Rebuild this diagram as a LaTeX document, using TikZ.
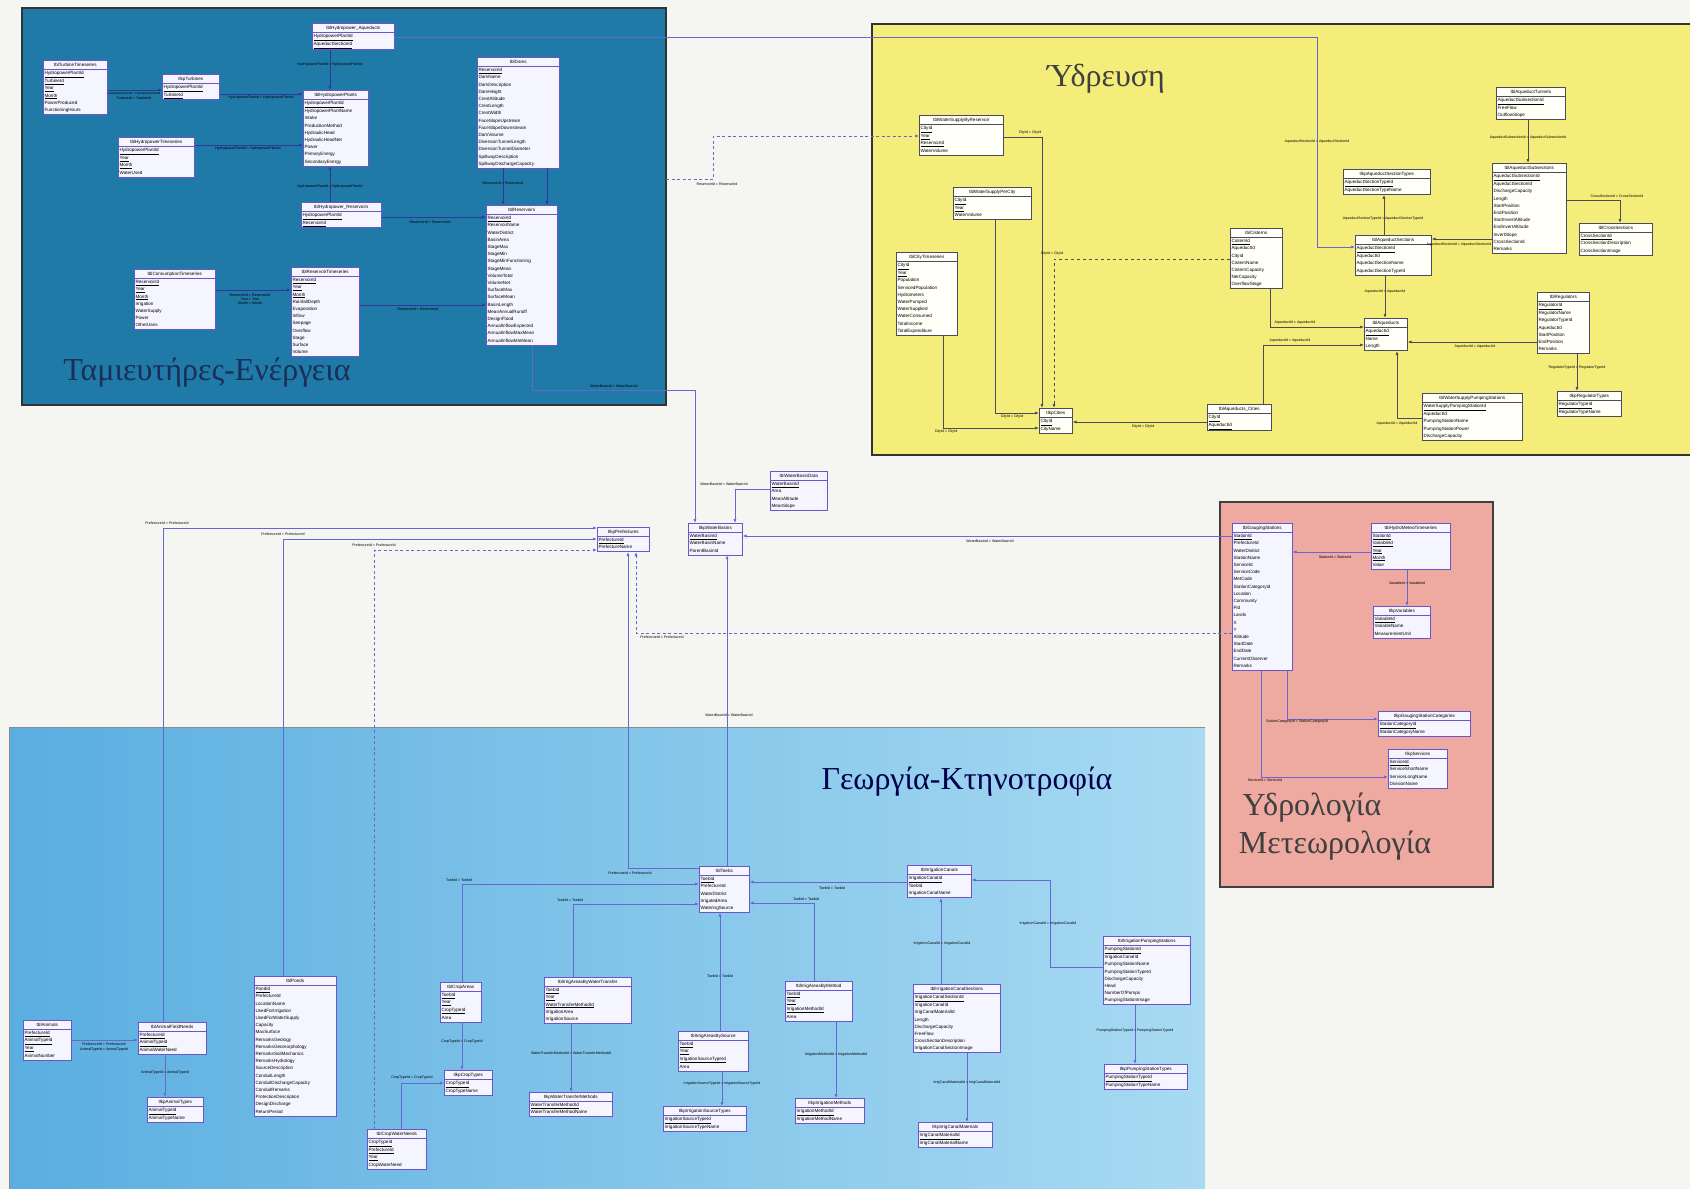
\documentclass[tikz,border=0pt]{standalone}
\usepackage{fontspec}
\setmainfont{Liberation Sans}
\newfontfamily\regionfont{Liberation Serif}
\usetikzlibrary{arrows.meta,shapes.multipart}
\definecolor{paper}{HTML}{F5F5F1}
\definecolor{energyblue}{HTML}{1F7AA8}
\definecolor{supplyyellow}{HTML}{F5ED7A}
\definecolor{hydropink}{HTML}{EEA9A0}
\definecolor{farmdark}{HTML}{5AAEE0}
\definecolor{farmlight}{HTML}{A8DAF2}
\definecolor{tableedge}{HTML}{6B55C9}
\definecolor{linkpurple}{HTML}{6767D4}
\definecolor{linknavy}{HTML}{34349A}
\definecolor{linkgray}{HTML}{4B4B5C}
\definecolor{titlenavy}{HTML}{1B2E57}
\tikzset{dbtable/.style={rectangle split,rectangle split parts=2,
 rectangle split part align={center,left},draw=tableedge,fill=white!96!blue,
 line width=.6pt,inner xsep=1.3pt,inner ysep=.4pt,text=black,
 font=\fontsize{4.6}{7.2}\selectfont},
 ytable/.style={dbtable,draw=linkgray,fill=white!97!yellow},
 link/.style={draw=linkpurple,line width=.7pt,-{Latex[length=4pt,width=3pt]}},
 toplink/.style={link,draw=linknavy},
 ylink/.style={link,draw=linkgray},
 dlink/.style={link,dashed,dash pattern=on 3pt off 2.5pt},
 rellabel/.style={font=\fontsize{3.6}{4.2}\selectfont,text=black,inner sep=.5pt,align=center},
 region/.style={line width=1.4pt,draw=black!80},
 regiontitle/.style={font=\fontsize{32}{36}\regionfont,text=titlenavy}}
\newcommand{\pk}[1]{\underline{#1}}
\newcommand{\dbtable}[6][dbtable]{%
 \node[#1,minimum width=#4pt,anchor=north west] (#2) at (#3)
  {\strut #5\nodepart{two}\begin{tabular}{@{}l@{}}#6\end{tabular}};}
\newcommand{\rel}[3]{\node[rellabel] (#1) at (#2) {#3};}

\begin{document}
\begin{tikzpicture}[x=1pt,y=-1pt]
 \useasboundingbox (0,0) rectangle (1690,1189);
 \fill[paper] (0,0) rectangle (1690,1189);
 % regions
 \fill[energyblue] (22,8) rectangle (666,405);
 \draw[region] (22,8) rectangle (666,405);
 \fill[supplyyellow] (872,24) rectangle (1690,455);
 \draw[region] (1690,24) -- (872,24) -- (872,455) -- (1690,455);
 \fill[hydropink] (1220,502) rectangle (1493,887);
 \draw[region,draw=black!75] (1220,502) rectangle (1493,887);
 \shade[left color=farmdark,right color=farmlight] (9,727) rectangle (1205,1189);
 \draw[line width=1pt,draw=black!45] (9,1189) -- (9,727) -- (1205,727);
 \node[regiontitle] (energytitle) at (207,373) {Ταμιευτήρες-Ενέργεια};
 \node[regiontitle,text=black!75] (supplytitle) at (1106,79) {Ύδρευση};
 \node[regiontitle,text=black!70!blue] (farmtitle) at (967,782) {Γεωργία-Κτηνοτροφία};
 \node[regiontitle,text=black!75] (hydrotitle) at (1312,808) {Υδρολογία};
 \node[regiontitle,text=black!75] (meteotitle) at (1335,846) {Μετεωρολογία};

 % reservoirs and energy
 \dbtable{turbts}{43,60}{64}{tblTurbineTimeseries}
  {\pk{HydropowerPlantId}\\\pk{TurbineId}\\\pk{Year}\\\pk{Month}\\PowerProduced\\FunctioningHours}
 \dbtable{turbines}{162,74}{57}{tlkpTurbines}{\pk{HydropowerPlantId}\\\pk{TurbineId}}
 \dbtable{plants}{303,90}{65}{tblHydropowerPlants}
  {\pk{HydropowerPlantId}\\HydropowerPlantName\\Intake\\ProductionMethod\\HydraulicHead\\
   HydraulicHeadNet\\Power\\PrimaryEnergy\\SecondaryEnergy}
 \dbtable{hpaqueducts}{312,23}{82}{tblHydropower\_Aqueducts}{\pk{HydropowerPlantId}\\\pk{AqueductSectionId}}
 \dbtable{hpts}{118,137}{76}{tblHydropowerTimeseries}
  {\pk{HydropowerPlantId}\\\pk{Year}\\\pk{Month}\\WaterUsed}
 \dbtable{hpreservoirs}{301,202}{80}{tblHydropower\_Reservoirs}{\pk{HydropowerPlantId}\\\pk{ReservoirId}}
 \dbtable{dams}{477,57}{82}{tblDams}
  {\pk{ReservoirId}\\DamName\\DamDescription\\DamHeight\\CrestAltitude\\CrestLength\\CrestWidth\\
   FaceSlopeUpstream\\FaceSlopeDownstream\\DamVolume\\DiversionTunnelLength\\
   DiversionTunnelDiameter\\SpillwayDescription\\SpillwayDischargeCapacity}
 \dbtable{reservoirs}{486,205}{71}{tblReservoirs}
  {\pk{ReservoirId}\\ReservoirName\\WaterDistrict\\BasinArea\\StageMax\\StageMin\\
   StageMinFunctioning\\StageMean\\VolumeTotal\\VolumeNet\\SurfaceMax\\SurfaceMean\\
   BasinLength\\MeanAnnualRunoff\\DesignFlood\\AnnualInflowExpected\\AnnualInflowMaxMean\\
   AnnualInflowMinMean}
 \dbtable{consts}{134,269}{81}{tblConsumptionTimeseries}
  {\pk{ReservoirId}\\\pk{Year}\\\pk{Month}\\Irrigation\\WaterSupply\\Power\\OtherUses}
 \dbtable{rests}{291,267}{68}{tblReservoirTimeseries}
  {\pk{ReservoirId}\\\pk{Year}\\\pk{Month}\\RainfallDepth\\Evaporation\\Inflow\\Seepage\\
   Overflow\\Stage\\Surface\\Volume}

 % water supply
 \dbtable[ytable]{wsres}{919,115}{84}{tblWaterSupplyByReservoir}
  {\pk{CityId}\\\pk{Year}\\\pk{ReservoirId}\\WaterVolume}
 \dbtable[ytable]{wscity}{953,187}{78}{tblWaterSupplyPerCity}{\pk{CityId}\\\pk{Year}\\WaterVolume}
 \dbtable[ytable]{cityts}{896,252}{61}{tblCityTimeseries}
  {\pk{CityId}\\\pk{Year}\\Population\\ServicedPopulation\\Hydrometers\\WaterPumped\\
   WaterSupplied\\WaterConsumed\\TotalIncome\\TotalExpenditure}
 \dbtable[ytable]{cities}{1039,408}{33}{tlkpCities}{\pk{CityId}\\CityName}
 \dbtable[ytable]{aqcities}{1207,404}{64}{tblAqueducts\_Cities}{\pk{CityId}\\\pk{AqueductId}}
 \dbtable[ytable]{cisterns}{1230,228}{52}{tblCisterns}
  {\pk{CisternId}\\AqueductId\\CityId\\CisternName\\CisternCapacity\\NetCapacity\\OverflowStage}
 \dbtable[ytable]{tunnels}{1496,87}{69}{tblAqueductTunnels}{\pk{AqueductSubsectionId}\\FreeFlow\\OutflowSlope}
 \dbtable[ytable]{subsections}{1492,163}{74}{tblAqueductSubsections}
  {\pk{AqueductSubsectionId}\\AqueductSectionId\\DischargeCapacity\\Length\\StartPosition\\
   EndPosition\\StartInvertAltitude\\EndInvertAltitude\\InvertSlope\\CrossSectionId\\Remarks}
 \dbtable[ytable]{crosssections}{1579,223}{73}{tblCrossSections}
  {\pk{CrossSectionId}\\CrossSectionDescription\\CrossSectionImage}
 \dbtable[ytable]{sectiontypes}{1343,169}{87}{tlkpAqueductSectionTypes}
  {\pk{AqueductSectionTypeId}\\AqueductSectionTypeName}
 \dbtable[ytable]{sections}{1355,235}{76}{tblAqueductSections}
  {\pk{AqueductSectionId}\\AqueductId\\AqueductSectionName\\AqueductSectionTypeId}
 \dbtable[ytable]{aqueducts}{1364,318}{43}{tblAqueducts}{\pk{AqueductId}\\Name\\Length}
 \dbtable[ytable]{regulators}{1537,292}{52}{tblRegulators}
  {\pk{RegulatorId}\\RegulatorName\\RegulatorTypeId\\AqueductId\\StartPosition\\EndPosition\\Remarks}
 \dbtable[ytable]{regtypes}{1557,391}{64}{tlkpRegulatorTypes}{\pk{RegulatorTypeId}\\RegulatorTypeName}
 \dbtable[ytable]{wspumps}{1422,393}{100}{tblWaterSupplyPumpingStations}
  {\pk{WaterSupplyPumpingStationId}\\AqueductId\\PumpingStationName\\PumpingStationPower\\DischargeCapacity}

 % hydrology and meteorology
 \dbtable{gauging}{1232,523}{60}{tblGaugingStations}
  {\pk{StationId}\\PrefectureId\\WaterDistrict\\StationName\\ServiceId\\ServiceCode\\MetCode\\
   StationCategoryId\\Location\\Community\\Pid\\Lands\\X\\Y\\Altitude\\StartDate\\EndDate\\
   CurrentObserver\\Remarks}
 \dbtable{hmts}{1371,523}{79}{tblHydroMeteoTimeseries}
  {\pk{StationId}\\\pk{VariableId}\\\pk{Year}\\\pk{Month}\\Value}
 \dbtable{variables}{1373,606}{57}{tlkpVariables}{\pk{VariableId}\\VariableName\\MeasurementUnit}
 \dbtable{stcategories}{1378,711}{92}{tlkpGaugingStationCategories}
  {\pk{StationCategoryId}\\StationCategoryName}
 \dbtable{services}{1388,749}{59}{tlkpServices}
  {\pk{ServiceId}\\ServiceShortName\\ServiceLongName\\DivisionName}

 % common lookups
 \dbtable{basins}{688,523}{54}{tlkpWaterBasins}{\pk{WaterBasinId}\\WaterBasinName\\ParentBasinId}
 \dbtable{basindata}{770,471}{57}{tblWaterBasinData}{\pk{WaterBasinId}\\Area\\MeanAltitude\\MeanSlope}
 \dbtable{prefectures}{597,527}{52}{tlkpPrefectures}{\pk{PrefectureId}\\PrefectureName}

 % agriculture and livestock
 \dbtable{toebs}{699,866}{50}{tblToebs}
  {\pk{ToebId}\\PrefectureId\\WaterDistrict\\IrrigatedArea\\WateringSource}
 \dbtable{cropareas}{440,982}{41}{tblCropAreas}{\pk{ToebId}\\\pk{Year}\\\pk{CropTypeId}\\Area}
 \dbtable{croptypes}{444,1070}{48}{tlkpCropTypes}{\pk{CropTypeId}\\CropTypeName}
 \dbtable{irrtransfer}{544,977}{87}{tblIrrigAreasByWaterTransfer}
  {\pk{ToebId}\\\pk{Year}\\\pk{WaterTransferMethodId}\\IrrigationArea\\IrrigationSource}
 \dbtable{transfermethods}{529,1092}{83}{tlkpWaterTransferMethods}
  {\pk{WaterTransferMethodId}\\WaterTransferMethodName}
 \dbtable{irrsource}{678,1031}{70}{tblIrrigAreasBySource}
  {\pk{ToebId}\\\pk{Year}\\\pk{IrrigationSourceTypeId}\\Area}
 \dbtable{sourcetypes}{663,1106}{83}{tlkpIrrigationSourceTypes}
  {\pk{IrrigationSourceTypeId}\\IrrigationSourceTypeName}
 \dbtable{irrmethod}{785,981}{67}{tblIrrigAreasByMethod}
  {\pk{ToebId}\\\pk{Year}\\\pk{IrrigationMethodId}\\Area}
 \dbtable{irrmethods}{795,1098}{69}{tlkpIrrigationMethods}{\pk{IrrigationMethodId}\\IrrigationMethodName}
 \dbtable{canals}{907,865}{64}{tblIrrigationCanals}{\pk{IrrigationCanalId}\\ToebId\\IrrigationCanalName}
 \dbtable{canalsections}{913,984}{87}{tblIrrigationCanalSections}
  {\pk{IrrigationCanalSectionId}\\IrrigationCanalId\\IrrigCanalMaterialId\\Length\\
   DischargeCapacity\\FreeFlow\\CrossSectionDescription\\IrrigationCanalSectionImage}
 \dbtable{materials}{918,1122}{74}{tlkpIrrigCanalMaterials}
  {\pk{IrrigCanalMaterialId}\\IrrigCanalMaterialName}
 \dbtable{irrpumps}{1103,936}{87}{tblIrrigationPumpingStations}
  {\pk{PumpingStationId}\\IrrigationCanalId\\PumpingStationName\\PumpingStationTypeId\\
   DischargeCapacity\\Head\\NumberOfPumps\\PumpingStationImage}
 \dbtable{pumptypes}{1104,1064}{83}{tlkpPumpingStationTypes}
  {\pk{PumpingStationTypeId}\\PumpingStationTypeName}
 \dbtable{animals}{23,1020}{48}{tblAnimals}
  {\pk{PrefectureId}\\\pk{AnimalTypeId}\\\pk{Year}\\AnimalNumber}
 \dbtable{animalneeds}{138,1022}{68}{tblAnimalFieldNeeds}
  {\pk{PrefectureId}\\\pk{AnimalTypeId}\\AnimalWaterNeed}
 \dbtable{animaltypes}{147,1097}{56}{tlkpAnimalTypes}{\pk{AnimalTypeId}\\AnimalTypeName}
 \dbtable{ponds}{254,976}{82}{tblPonds}
  {\pk{PondId}\\PrefectureId\\LocationName\\UsedForIrrigation\\UsedForWaterSupply\\Capacity\\
   MaxSurface\\RemarksGeology\\RemarksGeomorphology\\RemarksSoilMechanics\\RemarksHydrology\\
   SourceDescription\\ConduitLength\\ConduitDischargeCapacity\\ConduitRemarks\\
   ProtectionDescription\\DesignDischarge\\ReturnPeriod}
 \dbtable{cropwater}{367,1129}{59}{tblCropWaterNeeds}
  {\pk{CropTypeId}\\\pk{PrefectureId}\\\pk{Year}\\CropWaterNeed}

 % connectors, energy
 \draw[toplink] (turbts.east |- 0,90) -- (turbines.west |- 0,90);
 \rel{r1}{134,96}{\fontsize{2.9}{3.5}\selectfont HydropowerPlantId = HydropowerPlantId\\TurbineId = TurbineId}
 \draw[toplink] (turbines.east |- 0,94) -- (plants.west |- 0,94);
 \rel{r2}{261,98}{HydropowerPlantId = HydropowerPlantId}
 \draw[toplink] (hpaqueducts.south -| 330,0) -- (plants.north -| 330,0);
 \rel{r3}{330,65}{HydropowerPlantId = HydropowerPlantId}
 \draw[toplink] (hpts.east |- 0,145) -- (plants.west |- 0,145);
 \rel{r4}{248,149}{HydropowerPlantId = HydropowerPlantId}
 \draw[toplink] (hpreservoirs.north -| 330,0) -- (plants.south -| 330,0);
 \rel{r5}{330,187}{HydropowerPlantId = HydropowerPlantId}
 \draw[toplink] (dams.south -| 503,0) -- (reservoirs.north -| 503,0);
 \draw[toplink] (dams.south -| 547,0) -- (reservoirs.north -| 547,0);
 \rel{r6}{503,183}{ReservoirId = ReservoirId}
 \draw[toplink] (hpreservoirs.east |- 0,217) -- (reservoirs.west |- 0,217);
 \rel{r7}{430,222}{ReservoirId = ReservoirId}
 \draw[toplink] (consts.east |- 0,290) -- (rests.west |- 0,290);
 \rel{r8}{250,299}{ReservoirId = ReservoirId\\Year = Year\\Month = Month}
 \draw[toplink] (rests.east |- 0,305) -- (reservoirs.west |- 0,305);
 \rel{r9}{418,309}{ReservoirId = ReservoirId}

 % connectors across the regions
 \draw[link] (hpaqueducts.east |- 0,37) -- (1317,37) |- (sections.west |- 0,247);
 \rel{r10}{1317,142}{AqueductSectionId = AqueductSectionId}
 \coordinate (reservoiredge) at (666,179);
 \draw[dlink] (reservoiredge) -- (713,179) |- (wsres.west |- 0,136);
 \rel{r11}{717,184}{ReservoirId = ReservoirId}
 \draw[link] (reservoirs.south -| 532,0) |- (695,390) -- (basins.north -| 695,0);
 \rel{r12}{614,386}{WaterBasinId = WaterBasinId}
 \draw[link] (basindata.west |- 0,489) -| (basins.north -| 735,0);
 \rel{r13}{724,484}{WaterBasinId = WaterBasinId}
 \draw[link] (gauging.west |- 0,536) -- (basins.east |- 0,536);
 \rel{r14}{990,541}{WaterBasinId = WaterBasinId}
 \draw[dlink] (gauging.west |- 0,633) -| (prefectures.south -| 636,0);
 \rel{r15}{662,637}{PrefectureId = PrefectureId}
 \draw[link] (toebs.north -| 727,0) -- (basins.south -| 727,0);
 \rel{r16}{729,715}{WaterBasinId = WaterBasinId}
 \draw[link] (toebs.west |- 0,868) -| (prefectures.south -| 628,0);
 \rel{r17}{630,873}{PrefectureId = PrefectureId}
 \draw[link] (animalneeds.north -| 163,0) |- (prefectures.west |- 0,528);
 \rel{r18}{167,523}{PrefectureId = PrefectureId}
 \draw[link] (ponds.north -| 283,0) |- (prefectures.west |- 0,539);
 \rel{r19}{283,534}{PrefectureId = PrefectureId}
 \draw[dlink] (cropwater.north -| 374,0) |- (prefectures.west |- 0,550);
 \rel{r20}{374,545}{PrefectureId = PrefectureId}

 % connectors, water supply
 \draw[ylink] (wsres.east |- 0,137) -| (cities.north -| 1042,0);
 \rel{r21}{1030,133}{CityId = CityId}
 \draw[ylink] (wscity.south -| 995,0) |- (cities.west |- 0,413);
 \rel{r22}{1012,417}{CityId = CityId}
 \draw[ylink] (cityts.south -| 943,0) |- (cities.west |- 0,428);
 \rel{r23}{946,432}{CityId = CityId}
 \draw[ylink,dashed] (cisterns.west |- 0,259) -| (cities.north -| 1054,0);
 \rel{r24}{1052,254}{CityId = CityId}
 \draw[ylink] (aqcities.west |- 0,422) -- (cities.east |- 0,422);
 \rel{r25}{1143,427}{CityId = CityId}
 \draw[ylink] (cisterns.south -| 1270,0) |- (aqueducts.west |- 0,327);
 \rel{r26}{1295,323}{AqueductId = AqueductId}
 \draw[ylink] (aqcities.north -| 1263,0) |- (aqueducts.west |- 0,345);
 \rel{r27}{1290,341}{AqueductId = AqueductId}
 \draw[ylink] (sections.south -| 1385,0) -- (aqueducts.north -| 1385,0);
 \rel{r28}{1385,292}{AqueductId = AqueductId}
 \draw[ylink] (sections.north -| 1384,0) -- (sectiontypes.south -| 1384,0);
 \rel{r29}{1383,219}{AqueductSectionTypeId = AqueductSectionTypeId}
 \draw[ylink] (subsections.west |- 0,239) -- (sections.east |- 0,239);
 \rel{r30}{1459,245}{AqueductSectionId = AqueductSectionId}
 \draw[ylink] (tunnels.south -| 1528,0) -- (subsections.north -| 1528,0);
 \rel{r31}{1528,138}{AqueductSubsectionId = AqueductSubsectionId}
 \draw[ylink] (subsections.east |- 0,200) -| (crosssections.north -| 1620,0);
 \rel{r32}{1617,196}{CrossSectionId = CrossSectionId}
 \draw[ylink] (regulators.west |- 0,342) -- (aqueducts.east |- 0,342);
 \rel{r33}{1475,347}{AqueductId = AqueductId}
 \draw[ylink] (regulators.south -| 1577,0) -- (regtypes.north -| 1577,0);
 \rel{r34}{1577,368}{RegulatorTypeId = RegulatorTypeId}
 \draw[ylink] (wspumps.west |- 0,418) -| (aqueducts.south -| 1397,0);
 \rel{r35}{1397,424}{AqueductId = AqueductId}

 % connectors, hydrology
 \draw[link] (hmts.west |- 0,552) -- (gauging.east |- 0,552);
 \rel{r36}{1335,557}{StationId = StationId}
 \draw[link] (hmts.south -| 1407,0) -- (variables.north -| 1407,0);
 \rel{r37}{1407,583}{VariableId = VariableId}
 \draw[link] (gauging.south -| 1287,0) |- (stcategories.west |- 0,719);
 \rel{r38}{1297,722}{StationCategoryId = StationCategoryId}
 \draw[link] (gauging.south -| 1261,0) |- (services.west |- 0,777);
 \rel{r39}{1265,780}{ServiceId = ServiceId}

 % connectors, agriculture
 \draw[link] (cropareas.north -| 462,0) |- (toebs.west |- 0,884);
 \rel{r40}{459,880}{ToebId = ToebId}
 \draw[link] (irrtransfer.north -| 573,0) |- (toebs.west |- 0,904);
 \rel{r41}{570,900}{ToebId = ToebId}
 \draw[link] (irrsource.north -| 720,0) -- (toebs.south -| 720,0);
 \rel{r42}{720,976}{ToebId = ToebId}
 \draw[link] (canals.west |- 0,882) -- (toebs.east |- 0,882);
 \rel{r43}{832,888}{ToebId = ToebId}
 \draw[link] (irrmethod.north -| 814,0) |- (toebs.east |- 0,903);
 \rel{r44}{806,899}{ToebId = ToebId}
 \draw[link] (canalsections.north -| 941,0) -- (canals.south -| 941,0);
 \rel{r45}{942,944}{IrrigationCanalId = IrrigationCanalId}
 \draw[link] (canalsections.south -| 967,0) -- (materials.north -| 967,0);
 \rel{r46}{967,1083}{IrrigCanalMaterialId = IrrigCanalMaterialId}
 \draw[link] (irrpumps.west |- 0,967) -| (1050,880) -- (canals.east |- 0,880);
 \rel{r47}{1048,924}{IrrigationCanalId = IrrigationCanalId}
 \draw[link] (irrpumps.south -| 1135,0) -- (pumptypes.north -| 1135,0);
 \rel{r48}{1135,1031}{PumpingStationTypeId = PumpingStationTypeId}
 \draw[link] (cropareas.south -| 462,0) -- (croptypes.north -| 462,0);
 \rel{r49}{462,1042}{CropTypeId = CropTypeId}
 \draw[link] (irrtransfer.south -| 571,0) -- (transfermethods.north -| 571,0);
 \rel{r50}{571,1053}{WaterTransferMethodId = WaterTransferMethodId}
 \draw[link] (irrsource.south -| 722,0) -- (sourcetypes.north -| 722,0);
 \rel{r51}{722,1084}{IrrigationSourceTypeId = IrrigationSourceTypeId}
 \draw[link] (irrmethod.south -| 836,0) -- (irrmethods.north -| 836,0);
 \rel{r52}{836,1055}{IrrigationMethodId = IrrigationMethodId}
 \draw[link] (animals.east |- 0,1040) -- (animalneeds.west |- 0,1040);
 \rel{r53}{104,1047}{PrefectureId = PrefectureId\\AnimalTypeId = AnimalTypeId}
 \draw[link] (animalneeds.south -| 165,0) -- (animaltypes.north -| 165,0);
 \rel{r54}{165,1073}{AnimalTypeId = AnimalTypeId}
 \draw[link] (cropwater.north -| 401,0) |- (croptypes.west |- 0,1083);
 \rel{r55}{412,1078}{CropTypeId = CropTypeId}
\end{tikzpicture}
\end{document}
